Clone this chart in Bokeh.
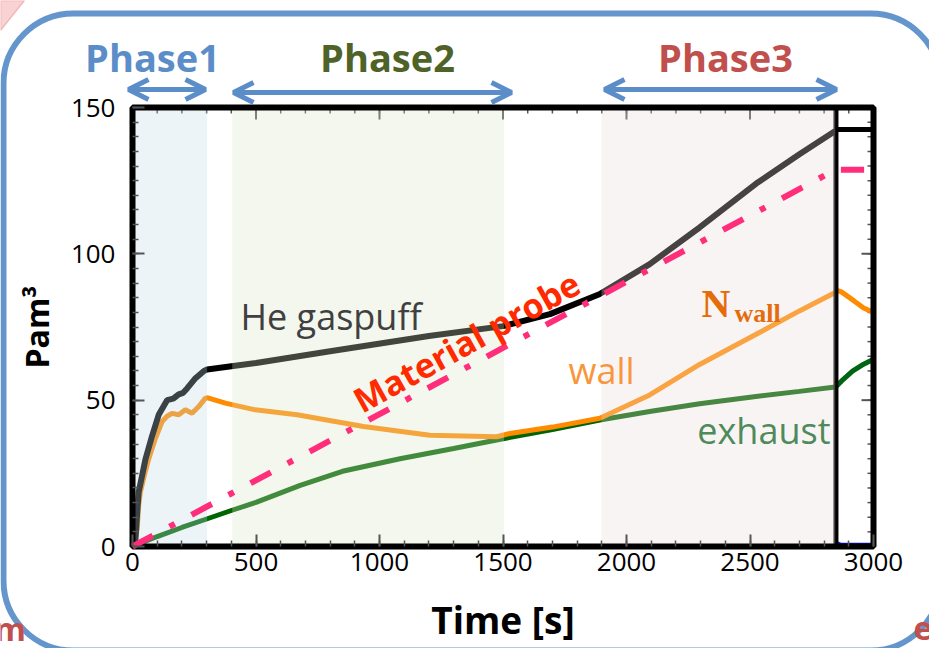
import math
from bokeh.plotting import figure
from bokeh.models import (Label, Arrow, OpenHead, BoxAnnotation, PolyAnnotation,
                          FixedTicker, ColumnDataSource, Range1d)
from bokeh.embed import file_html
from bokeh.resources import INLINE

# ---------------- data ----------------
x_ticks = [0, 500, 1000, 1500, 2000, 2500, 3000]
x_minor = list(range(0, 3001, 100))
y_ticks = [0, 50, 100, 150]
y_minor = list(range(0, 151, 5))

he_t = [0, 12, 19, 25, 53, 80, 106, 140, 165, 187, 205, 221, 255, 288, 302,
        400, 500, 800, 1200, 1500, 1690, 1890, 2094, 2296, 2525, 2700, 2845]
he_v = [0, 2.5, 11.7, 18.6, 30, 38, 45, 50, 50.5, 52, 52.5, 54, 57.5, 59.9, 60.5,
        61.6, 62.7, 66.7, 71.9, 75.3, 79.4, 86.2, 96.5, 109, 124, 134, 142]
he_after_t = [2850, 3000]
he_after_v = [142.5, 142.5]

wall_t = [0, 12, 19, 25, 32, 50, 66, 93, 120, 140, 160, 187, 214, 241, 268, 295, 305,
          376, 497, 666, 935, 1204, 1474, 1528, 1700, 1892, 2094, 2296, 2525, 2700, 2845]
wall_v = [0, 3, 6, 14, 18.6, 25, 30, 37, 42.7, 44.5, 45.5, 45, 46.7, 45.5, 47.8, 50.7, 50.8,
          49, 46.7, 45, 41, 38, 37.5, 38.6, 40.8, 43.8, 51.8, 62.2, 72.5, 80.5, 86.8]
wall_after_t = [2850, 2870, 2920, 2960, 3000]
wall_after_v = [87.6, 87, 84, 81.5, 80]

exh_t = [0, 100, 200, 300, 400, 500, 679, 850, 1083, 1300, 1474, 1700, 1892,
         2100, 2296, 2500, 2700, 2845]
exh_v = [0, 3.4, 6.5, 9.4, 12.3, 15.1, 20.9, 25.7, 30, 33.5, 36.4, 40, 43.2,
         46.2, 48.8, 51, 53, 54.5]
exh_after_t = [2850, 2870, 2915, 2960, 3000]
exh_after_v = [54.8, 56.5, 59.9, 62.3, 64]

blue_t = [0, 2845, 2852, 2870, 2990]
blue_v = [0.4, 0.4, 1.5, 0.9, 0.9]

probe_t = [0, 2845]
probe_v = [0, 128.7]
probe_after_t = [2868, 2962]
probe_after_v = [128.7, 128.7]

phase_names = ["Phase1", "Phase2", "Phase3"]
phase_start = [0, 404, 1899]
phase_end = [302, 1504, 2845]
shot_end = 2848

X_MIN, X_MAX = 0, 3000
Y_MIN, Y_MAX = 0, 150

# ---------------- geometry helpers (canvas px -> data) ----------------
W, H = 929, 648
FL, FR, FT, FB = 132, 873, 107, 546
def tx(px):
    return X_MIN + (px - FL) / (FR - FL) * (X_MAX - X_MIN)
def vy(py):
    return Y_MIN + (FB - py) / (FB - FT) * (Y_MAX - Y_MIN)

p = figure(width=W, height=H,
           x_range=Range1d(tx(0), tx(W)), y_range=Range1d(vy(H), vy(0)),
           output_backend="svg", toolbar_location=None,
           min_border_left=0, min_border_right=0, min_border_top=0, min_border_bottom=0,
           background_fill_color="white", border_fill_color="white")
p.xgrid.visible = False
p.ygrid.visible = False
p.outline_line_color = None

FONT = "Open Sans"
tick_col = "#555555"

# axes placed at the data frame edges
p.xaxis.fixed_location = Y_MIN
p.yaxis.fixed_location = X_MIN
p.xaxis.bounds = (X_MIN, X_MAX)
p.yaxis.bounds = (Y_MIN, Y_MAX)
p.xaxis.ticker = FixedTicker(ticks=x_ticks, minor_ticks=x_minor)
p.yaxis.ticker = FixedTicker(ticks=y_ticks, minor_ticks=y_minor)
for ax in (p.xaxis[0], p.yaxis[0]):
    ax.axis_line_color = None
    ax.major_tick_in = 12
    ax.major_tick_out = 0
    ax.minor_tick_in = 6
    ax.minor_tick_out = 0
    ax.major_tick_line_color = tick_col
    ax.minor_tick_line_color = tick_col
    ax.major_tick_line_width = 2
    ax.minor_tick_line_width = 1.5
    ax.major_label_text_font = FONT
    ax.major_label_text_font_size = "26px"
    ax.major_label_text_color = "black"
    ax.axis_label_text_font = FONT
    ax.axis_label_text_font_style = "bold"
    ax.axis_label_text_color = "black"

p.xaxis.axis_label = "Time [s]"
p.xaxis.axis_label_text_font_size = "37px"
p.xaxis.major_label_standoff = 6
p.xaxis.axis_label_standoff = 20
p.yaxis.axis_label = "Pam³"
p.yaxis.axis_label_text_font_size = "32px"
p.yaxis.major_label_standoff = 17
p.yaxis.axis_label_standoff = 10

# mirror ticks on top and right frame edges
p.ray(x=x_ticks, y=Y_MAX, length=12, length_units="screen", angle=-math.pi / 2,
      line_color=tick_col, line_width=2)
p.ray(x=x_minor, y=Y_MAX, length=6, length_units="screen", angle=-math.pi / 2,
      line_color=tick_col, line_width=1.5)
p.ray(x=X_MAX, y=y_ticks, length=12, length_units="screen", angle=math.pi,
      line_color=tick_col, line_width=2)
p.ray(x=X_MAX, y=y_minor, length=6, length_units="screen", angle=math.pi,
      line_color=tick_col, line_width=1.5)

# ---------------- curves ----------------
p.line(blue_t, blue_v, line_color="#1010CC", line_width=2)
p.line(exh_t, exh_v, line_color="#006400", line_width=5)
p.line(exh_after_t, exh_after_v, line_color="#006414", line_width=5)
p.line(wall_t, wall_v, line_color="#FF8C00", line_width=5)
p.line(wall_after_t, wall_after_v, line_color="#FF8C00", line_width=5)
p.line(he_t, he_v, line_color="black", line_width=6)
p.line(he_after_t, he_after_v, line_color="black", line_width=5)
p.segment(x0=[shot_end], y0=[Y_MIN], x1=[shot_end], y1=[Y_MAX], line_color="black",
          line_width=5)

# phase shading (semi transparent, on top of the curves)
src = ColumnDataSource(dict(left=phase_start, right=phase_end,
                            fill=["#C0DAE8", "#DAE4C6", "#EBDCDC"]))
p.quad(left="left", right="right", bottom=Y_MIN, top=Y_MAX, fill_color="fill",
       fill_alpha=0.3, line_color=None, source=src)

# plot frame
p.quad(left=[X_MIN], right=[X_MAX], bottom=[Y_MIN], top=[Y_MAX], fill_color=None,
       line_color="black", line_width=6)

p.line(probe_t, probe_v, line_color="#FF2D7A", line_width=6, line_dash="23 19 6 19")
p.line(probe_after_t, probe_after_v, line_color="#FF2D7A", line_width=6)

# ---------------- labels ----------------
DY = 15  # Label baseline correction (px)
def lbl(px, py, text, **kw):
    p.add_layout(Label(x=tx(px), y=vy(py - DY), text=text,
                       text_baseline="alphabetic", **kw))

lbl(240, 331, "He gaspuff", text_font=FONT, text_font_size="36px",
    text_color="#404040", text_align="left")
lbl(568, 385, "wall", text_font=FONT, text_font_size="36px",
    text_color="#F7963C", text_align="left")
lbl(830, 445, "exhaust", text_font=FONT, text_font_size="36px",
    text_color="#4E8A5A", text_align="right")
lbl(701, 318, "N", text_font="Liberation Serif", text_font_style="bold",
    text_font_size="40px", text_color="#E46C0A", text_align="left")
lbl(734, 328, "wall", text_font="Liberation Serif", text_font_style="bold",
    text_font_size="26px", text_color="#E46C0A", text_align="left")
p.add_layout(Label(x=tx(466), y=vy(341), text="Material probe", text_font=FONT,
                   text_font_style="bold", text_font_size="34px", text_color="#FF2A00",
                   text_align="center", text_baseline="middle", angle=0.506))

# phase titles and arrows
phase_cols = ["#5B8DC9", "#4F6228", "#C0504D"]
phase_cx = [152, 387, 725]
for name, cx, col in zip(phase_names, phase_cx, phase_cols):
    lbl(cx, 73 - 2, name, text_font=FONT, text_font_style="bold",
        text_font_size="38px", text_color=col, text_align="center")
arrow_col = "#5B8DC9"
for x0, x1, yy in [(128, 205, 89), (233, 511, 92), (604, 836, 89)]:
    p.add_layout(Arrow(x_start=tx(x0), y_start=vy(yy), x_end=tx(x1), y_end=vy(yy),
                       line_color=arrow_col, line_width=5,
                       start=OpenHead(size=20, line_color=arrow_col, line_width=5),
                       end=OpenHead(size=20, line_color=arrow_col, line_width=5)))

# slide decorations
p.add_layout(PolyAnnotation(xs=[tx(0), tx(24), tx(0)], ys=[vy(0), vy(0), vy(30)],
                            fill_color="#F9D3D3", fill_alpha=1, line_color="#D9534F",
                            line_width=1.5))
p.add_layout(BoxAnnotation(left=tx(3), right=tx(940), top=vy(13), bottom=vy(650),
                           fill_color=None, fill_alpha=0, line_color="#6496CD",
                           line_alpha=1, line_width=6, border_radius=70))
lbl(-6, 643, "m", text_font=FONT, text_font_style="bold", text_font_size="32px",
    text_color="#C0504D", text_align="left")
lbl(913, 643, "e", text_font=FONT, text_font_style="bold", text_font_size="32px",
    text_color="#C0504D", text_align="left")

open("out.html", "w").write(file_html(p, INLINE))
